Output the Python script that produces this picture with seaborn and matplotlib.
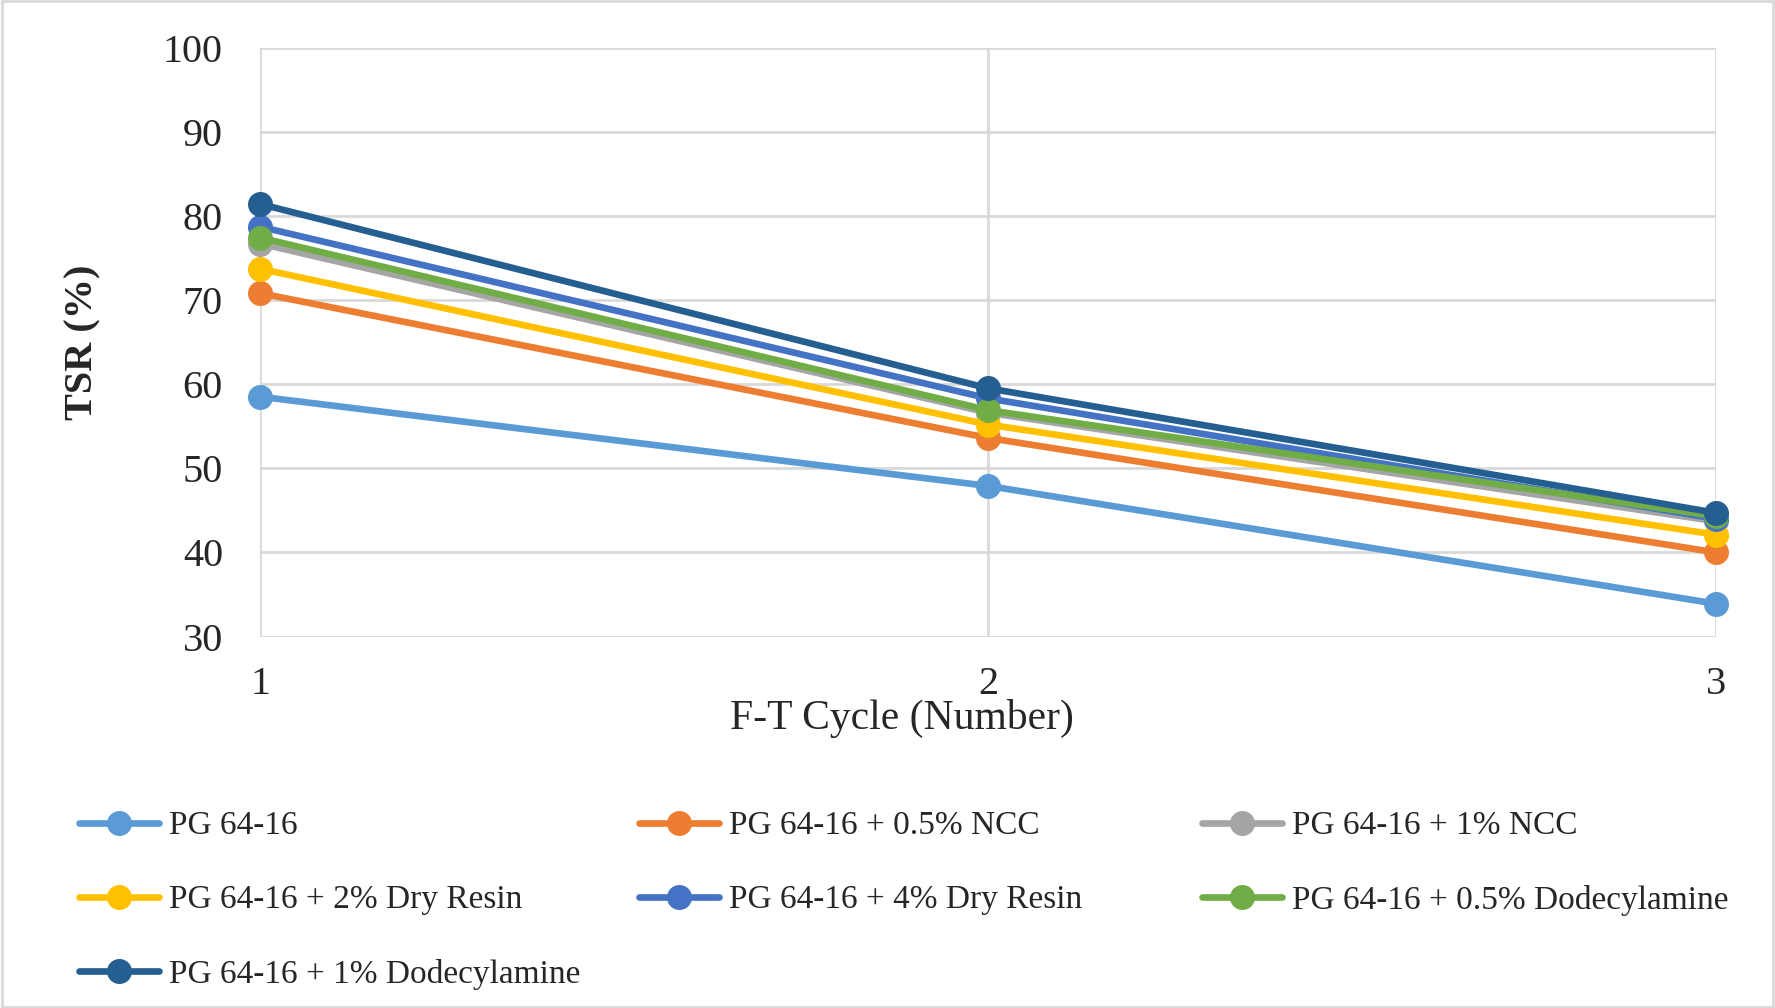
import pandas as pd
import seaborn as sns
import matplotlib.pyplot as plt
from matplotlib.patches import Rectangle

cycles = [1, 2, 3]
series_names = ['PG 64-16', 'PG 64-16 + 0.5% NCC', 'PG 64-16 + 1% NCC',
                'PG 64-16 + 2% Dry Resin', 'PG 64-16 + 4% Dry Resin',
                'PG 64-16 + 0.5% Dodecylamine', 'PG 64-16 + 1% Dodecylamine']
pg = [58.5, 47.9, 33.9]
ncc_05 = [70.8, 53.6, 40.0]
ncc_1 = [76.7, 56.6, 43.7]
resin_2 = [73.7, 55.2, 42.1]
resin_4 = [78.7, 58.3, 44.0]
dodec_05 = [77.4, 56.9, 44.3]
dodec_1 = [81.4, 59.5, 44.7]
colors = ['#5B9BD5', '#ED7D31', '#A5A5A5', '#FFC000', '#4472C4', '#70AD47', '#255E91']

values = [pg, ncc_05, ncc_1, resin_2, resin_4, dodec_05, dodec_1]
rows = []
for name, vals in zip(series_names, values):
    for c, v in zip(cycles, vals):
        rows.append({'cycle': c, 'TSR': v, 'series': name})
df = pd.DataFrame(rows)

sns.set_style('white')
plt.rcParams['font.family'] = ['Liberation Serif', 'DejaVu Serif']

fig = plt.figure(figsize=(17.75, 10.08), dpi=100)
ax = fig.add_axes([0.1467, 0.3685, 0.8201, 0.5843])
sns.lineplot(data=df, x='cycle', y='TSR', hue='series', hue_order=series_names,
             palette=colors, marker='o', markersize=18, markeredgewidth=0,
             linewidth=4.8, ax=ax)

ax.set_xlim(1, 3)
ax.set_ylim(30, 100)
ax.set_xticks(cycles)
ax.set_yticks(range(30, 101, 10))
ax.tick_params(axis='both', labelsize=29, length=0)
ax.tick_params(axis='y', pad=27)
ax.tick_params(axis='x', pad=21)
ax.grid(True, color='#d9d9d9', linewidth=2)
for s in ax.spines.values():
    s.set_visible(False)
for line in ax.get_lines():
    line.set_clip_on(False)

ax.set_xlabel('')
ax.set_ylabel('TSR (%)', fontsize=29, fontweight='bold')
ax.yaxis.set_label_coords(-0.109, 0.5)
fig.text(0.508, 0.287, 'F-T Cycle (Number)', fontsize=30, ha='center', va='center')

handles, labels = ax.get_legend_handles_labels()
ax.get_legend().remove()
# three legend columns of equal width, filled row by row
col_x = [0.0446, 0.360, 0.677]
for k, x0 in enumerate(col_x):
    idx = list(range(k, len(series_names), 3))
    leg = fig.legend([handles[i] for i in idx], [labels[i] for i in idx],
                     loc='upper left', bbox_to_anchor=(x0, 0.1955),
                     frameon=False, fontsize=24, handlelength=2.4,
                     handletextpad=0.3, labelspacing=1.3,
                     borderaxespad=0, borderpad=0)

fig.patches.append(Rectangle((0.001, 0.001), 0.998, 0.998, transform=fig.transFigure,
                             fill=False, edgecolor='#d9d9d9', linewidth=2))

plt.savefig('out.png', dpi=100)
